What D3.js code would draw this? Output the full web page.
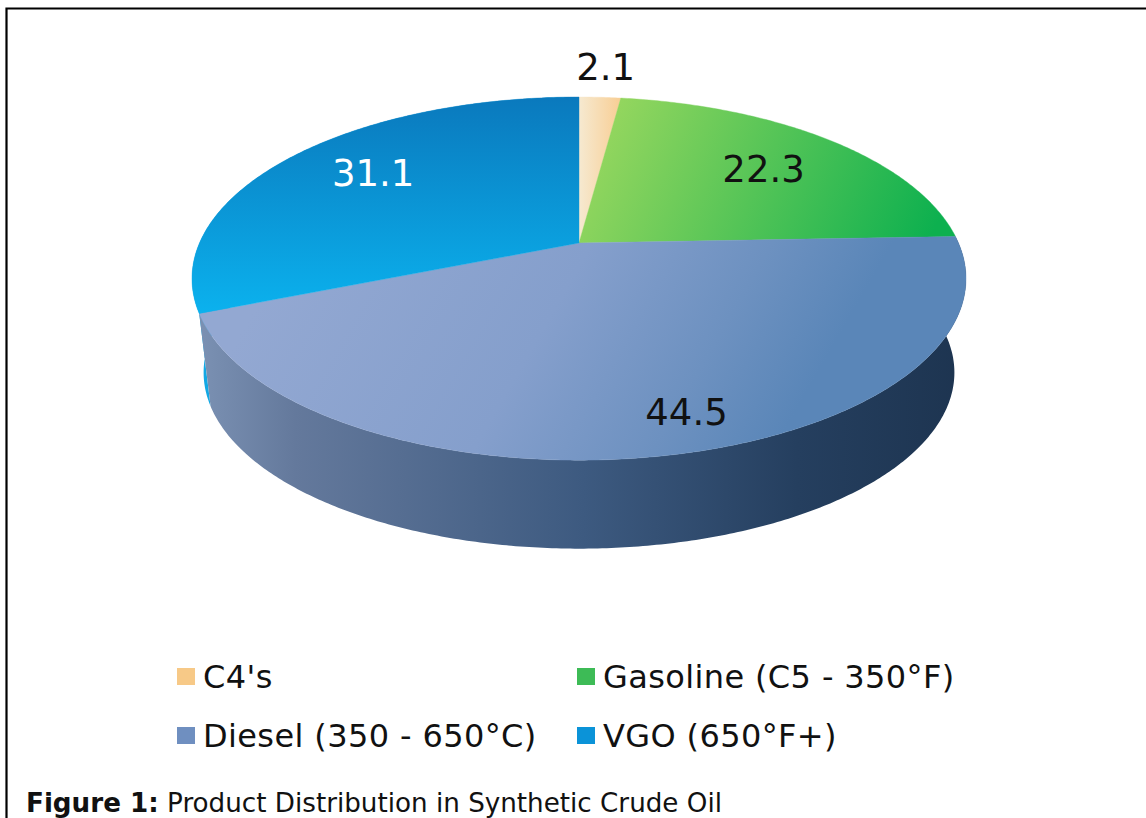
<!DOCTYPE html>
<html>
<head>
<meta charset="utf-8">
<script src="https://cdn.jsdelivr.net/npm/d3@7"></script>
<style>
  html, body { margin: 0; padding: 0; background: #fff; }
  svg { display: block; }
  text { font-family: "DejaVu Sans", Verdana, sans-serif; }
</style>
</head>
<body>
<svg id="chart" width="1146" height="818"></svg>
<script>
// Product shares, percent by volume
const categories = ["C4's", "Gasoline (C5 - 350°F)", "Diesel (350 - 650°C)", "VGO (650°F+)"];
const shares = [2.1, 22.3, 44.5, 31.1];
const labelColors = ["#111", "#111", "#111", "#fff"];
const labelRadii = [1.22, 0.72, 0.85, 0.705];
const labelNudges = [[2, -4], [0, 4], [27, -4], [0, -6]];

const topStops = [
  [["0%", "#f6ead2"], ["100%", "#f8cd92"]],
  [["0%", "#93d65e"], ["100%", "#0db04f"]],
  [["0%", "#93a8d2"], ["50%", "#859fcc"], ["80%", "#6d91c0"], ["100%", "#5a86b8"]],
  [["0%", "#0a79bd"], ["100%", "#0bb2ee"]]
];
const topVectors = [
  [578, 0, 622, 0],
  [620, 100, 930, 240],
  [300, 230, 750, 490],
  [0, 97, 0, 315]
];
const sideStops = [
  [["0%", "#f6d19c"], ["100%", "#e8b67a"]],
  [["0%", "#3bbf55"], ["100%", "#0a8a3a"]],
  [["0%", "#7a90b2"], ["12%", "#64799c"], ["50%", "#3d5a80"], ["78%", "#253f5f"], ["100%", "#1d3450"]],
  [["0%", "#12a8e4"], ["100%", "#12a8e4"]]
];
const sideVectors = [[0, 0, 1, 0], [0, 0, 1, 0], [203, 0, 965, 0], [0, 0, 1, 0]];

const svg = d3.select("#chart");
const defs = svg.append("defs");

function addGradient(id, stops, v) {
  const g = defs.append("linearGradient").attr("id", id)
    .attr("gradientUnits", "userSpaceOnUse")
    .attr("x1", v[0]).attr("y1", v[1]).attr("x2", v[2]).attr("y2", v[3]);
  g.selectAll("stop").data(stops).join("stop")
    .attr("offset", d => d[0]).attr("stop-color", d => d[1]);
}
shares.forEach((_, i) => {
  addGradient("top" + i, topStops[i], topVectors[i]);
  addGradient("side" + i, sideStops[i], sideVectors[i]);
});

// Frame: top and left rules only
svg.append("path").attr("d", "M6.5,818V8.5H1146")
  .attr("fill", "none").attr("stroke", "#000").attr("stroke-width", 2.2);

// Perspective view of a flat disc seen from above; the near edge reads larger
const hub = { x: 579, y: 243 };
const disc = { rx: 379.5, ry: 174.6, tilt: -0.196 };
const floor = { scale: 0.97, drop: 95 };

function project(theta, r, level) {
  const u = Math.sin(theta) * r, v = -Math.cos(theta) * r;
  const w = 1 + disc.tilt * v;
  const s = level === "floor" ? floor.scale : 1;
  const dy = level === "floor" ? floor.drop : 0;
  return [hub.x + s * disc.rx * u / w, hub.y + dy + s * disc.ry * v / w];
}

const arcs = d3.pie().sort(null).value(d => d)(shares);
const line = d3.line();

function samples(a0, a1) {
  const n = Math.max(2, Math.ceil((a1 - a0) / 0.01));
  return d3.range(n + 1).map(i => a0 + (a1 - a0) * i / n);
}

// Outer wall: one quad per small step so the silhouette stays clean
const wallOrder = [3, 2];
svg.append("g").selectAll("path").data(wallOrder).join("path")
  .attr("fill", i => `url(#side${i})`)
  .attr("d", i => {
    const t = samples(arcs[i].startAngle, arcs[i].endAngle);
    return d3.pairs(t).map(([a, b]) => line([
      project(a, 1, "top"), project(b, 1, "top"),
      project(b, 1, "floor"), project(a, 1, "floor")
    ]) + "Z").join("");
  });

// Top face
svg.append("g").selectAll("path").data(arcs).join("path")
  .attr("fill", (d, i) => `url(#top${i})`)
  .attr("stroke", (d, i) => `url(#top${i})`)
  .attr("stroke-width", 0.4)
  .attr("d", d => {
    const rim = samples(d.startAngle, d.endAngle).map(t => project(t, 1, "top"));
    return line([[hub.x, hub.y], ...rim]) + "Z";
  });

// Value labels
svg.append("g").selectAll("text").data(arcs).join("text")
  .attr("text-anchor", "middle")
  .attr("dominant-baseline", "central")
  .attr("font-size", 37)
  .attr("fill", (d, i) => labelColors[i])
  .attr("x", (d, i) => project((d.startAngle + d.endAngle) / 2, labelRadii[i], "top")[0] + labelNudges[i][0])
  .attr("y", (d, i) => project((d.startAngle + d.endAngle) / 2, labelRadii[i], "top")[1] + labelNudges[i][1])
  .text(d => d.value);

// Legend, two rows of two
const legendX = d3.scaleOrdinal().domain([0, 1]).range([177, 577]);
const legendY = d3.scaleOrdinal().domain([0, 1]).range([668, 727]);
const swatchColors = ["#f7c987", "#3dbb56", "#6f8fc0", "#0b93d8"];
const legend = svg.append("g").selectAll("g").data(categories).join("g")
  .attr("transform", (d, i) => `translate(${legendX(i % 2)},${legendY(Math.floor(i / 2))})`);
legend.append("rect").attr("width", 18).attr("height", 17)
  .attr("fill", (d, i) => swatchColors[i]);
legend.append("text").attr("x", 26).attr("y", 20)
  .attr("font-size", 32).attr("letter-spacing", 0.38).attr("fill", "#111").text(d => d);

// Caption
const caption = svg.append("text").attr("x", 26).attr("y", 812)
  .attr("font-size", 26.2).attr("fill", "#111");
caption.append("tspan").attr("font-weight", "bold").text("Figure 1:");
caption.append("tspan").text(" Product Distribution in Synthetic Crude Oil");
</script>
</body>
</html>
